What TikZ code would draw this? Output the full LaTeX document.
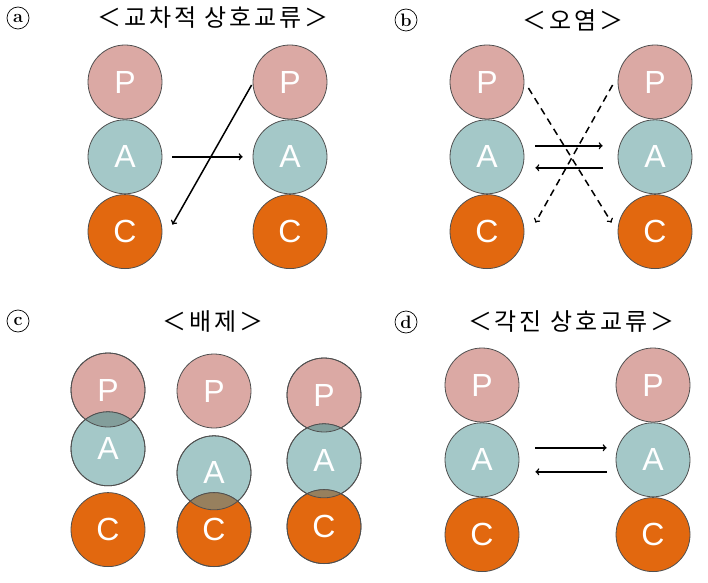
\documentclass[tikz,border=0pt]{standalone}
\usepackage{fontspec}
\setsansfont{Liberation Sans}
\newfontfamily\korfont[LetterSpace=12]{Noto Sans CJK KR}
\usepackage{xcolor}
\usepackage{tikz}
\usetikzlibrary{positioning}

\definecolor{pcol}{HTML}{DBA9A4}
\definecolor{acol}{HTML}{A4C8C8}
\definecolor{ccol}{HTML}{E2680F}
\definecolor{pacol}{HTML}{839E9B}
\definecolor{accol}{HTML}{97805E}
\definecolor{rimcol}{HTML}{505050}

\begin{document}
\begin{tikzpicture}[x=1pt, y=1pt, >=to, node distance=0pt,
    ring/.style={circle, draw=rimcol, line width=0.8pt, minimum size=74pt, inner sep=0pt, text=white, font=\sffamily\fontsize{32}{32}\selectfont},
    pnode/.style={ring, fill=pcol},
    anode/.style={ring, fill=acol},
    cnode/.style={ring, fill=ccol},
    tag/.style={circle, draw, line width=0.7pt, inner sep=0pt, minimum size=22pt, font=\fontsize{18}{18}\selectfont\bfseries},
    title/.style={font=\korfont\fontsize{24}{24}\selectfont},
    link/.style={->, line width=1.5pt},
    dashlink/.style={link, dash pattern=on 7pt off 5pt}]
    \useasboundingbox (0,0) rectangle (708,582);

    % Panel a
    \node[tag] (taga) at (18,564) {a};
    \node[title] (titlea) at (213,564) {＜교차적 상호교류＞};
    \node[pnode] (aP1) at (125,500) {P};
    \node[anode, below=of aP1] (aA1) {A};
    \node[cnode, below=of aA1] (aC1) {C};
    \node[pnode] (aP2) at (290,500) {P};
    \node[anode, below=of aP2] (aA2) {A};
    \node[cnode, below=of aA2] (aC2) {C};
    \draw[link, shorten <=10pt, shorten >=10pt] (aA1.east) -- (aA2.west);
    \draw[link] ([xshift=-1pt, yshift=-3pt]aP2.west) -- ([xshift=10pt, yshift=7pt]aC1.east);

    % Panel b
    \node[tag] (tagb) at (406,562) {b};
    \node[title] (titleb) at (573,562) {＜오염＞};
    \node[pnode] (bP1) at (487,500) {P};
    \node[anode, below=of bP1] (bA1) {A};
    \node[cnode, below=of bA1] (bC1) {C};
    \node[pnode] (bP2) at (655,500) {P};
    \node[anode, below=of bP2] (bA2) {A};
    \node[cnode, below=of bA2] (bC2) {C};
    \draw[link, shorten <=11pt, shorten >=15pt] ([yshift=11pt]bA1.east) -- ([yshift=11pt]bA2.west);
    \draw[link, shorten <=15pt, shorten >=11pt] ([yshift=-11pt]bA2.west) -- ([yshift=-11pt]bA1.east);
    \draw[dashlink] ([xshift=4pt, yshift=-6pt]bP1.east) -- ([xshift=-6pt, yshift=9pt]bC2.west);
    \draw[dashlink] ([xshift=-5pt, yshift=-3pt]bP2.west) -- ([xshift=11pt, yshift=9pt]bC1.east);

    % Panel c
    \node[tag] (tagc) at (18,261) {c};
    \node[title] (titlec) at (213,260) {＜배제＞};
    \node[pnode] (cP1) at (108,192) {P};
    \node[anode, below=-16pt of cP1] (cA1) {A};
    \node[cnode, below=6pt of cA1] (cC1) {C};
    \node[pnode] (cP2) at (214,191) {P};
    \node[anode, below=7pt of cP2] (cA2) {A};
    \node[cnode, below=-18pt of cA2] (cC2) {C};
    \node[pnode] (cP3) at (324,187) {P};
    \node[anode, below=-9pt of cP3] (cA3) {A};
    \node[cnode, below=-9pt of cA3] (cC3) {C};
    % overlaps
    \begin{scope}
        \clip (cP1.center) circle (37);
        \fill[pacol] (cA1.center) circle (37);
    \end{scope}
    \begin{scope}
        \clip (cA2.center) circle (37);
        \fill[accol] (cC2.center) circle (37);
    \end{scope}
    \begin{scope}
        \clip (cP3.center) circle (37);
        \fill[pacol] (cA3.center) circle (37);
    \end{scope}
    \begin{scope}
        \clip (cA3.center) circle (37);
        \fill[accol] (cC3.center) circle (37);
    \end{scope}
    \draw[rimcol, line width=0.8pt] (cP1.center) circle (37) (cA1.center) circle (37)
        (cA2.center) circle (37) (cC2.center) circle (37)
        (cP3.center) circle (37) (cA3.center) circle (37) (cC3.center) circle (37);

    % Panel d
    \node[tag] (tagd) at (406,260) {d};
    \node[title] (titled) at (571,260) {＜각진 상호교류＞};
    \node[pnode] (dP1) at (482,197) {P};
    \node[anode, below=of dP1] (dA1) {A};
    \node[cnode, below=of dA1] (dC1) {C};
    \node[pnode] (dP2) at (653,197) {P};
    \node[anode, below=of dP2] (dA2) {A};
    \node[cnode, below=of dA2] (dC2) {C};
    \draw[link, shorten <=16pt, shorten >=9pt] ([yshift=12pt]dA1.east) -- ([yshift=12pt]dA2.west);
    \draw[link, shorten <=9pt, shorten >=16pt] ([yshift=-12pt]dA2.west) -- ([yshift=-12pt]dA1.east);
\end{tikzpicture}
\end{document}
